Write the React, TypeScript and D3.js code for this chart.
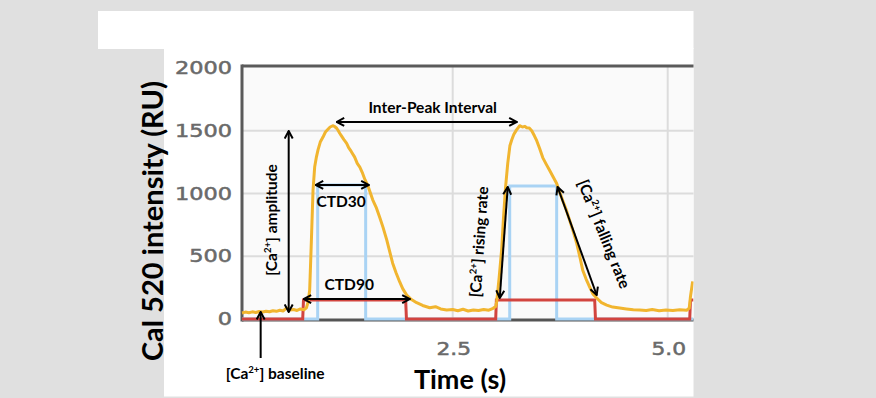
import React from "react";
import * as d3 from "d3";

const W = 876;
const H = 398;

const yTicks = [0, 500, 1000, 1500, 2000];
const xTicks = [2.5, 5.0];
const xTickLabels = ["2.5", "5.0"];

// Cal 520 trace: time (s) and intensity (RU)
const traceTime = [
  0.05, 0.09, 0.13, 0.17, 0.21, 0.25, 0.29, 0.33, 0.37, 0.41, 0.45, 0.49, 0.53, 0.57, 0.61, 0.65, 0.69, 0.73, 0.77, 0.8, 0.82,
  0.837, 0.857, 0.876, 0.895, 0.915, 0.934, 0.96, 0.992, 1.02, 1.047, 1.075, 1.105, 1.13, 1.151, 1.17, 1.186, 1.21, 1.235,
  1.267, 1.29, 1.32, 1.36, 1.39, 1.42, 1.453, 1.48, 1.512, 1.54, 1.57, 1.61, 1.651, 1.69, 1.733, 1.77, 1.802, 1.84, 1.884,
  1.92, 1.965, 2.02, 2.081, 2.15, 2.233, 2.3, 2.36, 2.43, 2.5, 2.56, 2.62, 2.68, 2.74, 2.8, 2.86, 2.92, 2.97, 3.0,
  3.012, 3.04, 3.07, 3.09, 3.115, 3.14, 3.165, 3.186, 3.21, 3.24, 3.279, 3.31, 3.34, 3.36, 3.39, 3.419, 3.45, 3.477, 3.51,
  3.547, 3.59, 3.628, 3.67, 3.709, 3.74, 3.779, 3.82, 3.86, 3.9, 3.942, 3.98, 4.012, 4.05, 4.093, 4.13, 4.174, 4.23, 4.291,
  4.36, 4.442, 4.52, 4.6, 4.674, 4.75, 4.82, 4.9, 4.98, 5.06, 5.14, 5.22, 5.25, 5.265, 5.29,
];
const traceValue = [
  48, 55, 50, 57, 52, 60, 56, 62, 58, 66, 61, 70, 64, 88, 72, 76, 68, 80, 74, 90, 140,
  231, 629, 1028, 1211, 1290, 1347, 1410, 1450, 1490, 1510, 1530, 1540, 1532, 1520, 1500, 1480, 1455, 1430,
  1400, 1365, 1335, 1290, 1240, 1210, 1160, 1110, 1065, 1010, 950, 890, 810, 730, 630, 530, 445, 370, 295,
  240, 190, 155, 130, 108, 90, 98, 80, 72, 75, 66, 78, 64, 72, 68, 76, 70, 85, 100,
  140, 330, 560, 800, 1052, 1240, 1380, 1426, 1470, 1505, 1540, 1530, 1535, 1524, 1522, 1500, 1460, 1421, 1360,
  1286, 1230, 1183, 1130, 1080, 1020, 945, 870, 786, 700, 603, 490, 389, 320, 254, 200, 167, 130, 111,
  95, 87, 80, 74, 71, 68, 75, 66, 72, 68, 74, 70, 85, 180, 300,
];

// CTD30 pulse (blue)
const ctd30Time = [0.05, 0.93, 0.93, 1.488, 1.488, 3.163, 3.163, 3.709, 3.709, 5.3];
const ctd30Value = [0, 0, 1068, 1068, 0, 0, 1060, 1060, 0, 0];

// CTD90 pulse (red)
const ctd90Time = [0.05, 0.756, 0.765, 1.953, 1.962, 3.0, 3.008, 4.151, 4.16, 5.256, 5.265, 5.3];
const ctd90Value = [0, 0, 151, 151, 0, 0, 151, 151, 0, 0, 151, 151];

// annotation arrows in data units
const arrowNames = ["interpeak", "amplitude", "ctd30", "ctd90", "rising", "falling", "baseline"];
const arrowFrom = [[1.151, 1570], [0.593, 56], [0.907, 1068], [0.767, 159], [3.047, 167], [3.72, 1052], [0.267, -311]];
const arrowTo = [[3.244, 1570], [0.593, 1498], [1.523, 1068], [2.0, 159], [3.14, 1052], [4.174, 191], [0.267, 56]];
const arrowDouble = [true, true, true, true, true, true, false];

const Ca = ({ size }: { size: number }) => (
  <>
    <tspan>[Ca</tspan>
    <tspan fontSize={size * 0.62} dy={-size * 0.38}>2+</tspan>
    <tspan dy={size * 0.38}>]</tspan>
  </>
);

export default function App() {
  const x = d3.scaleLinear().domain([0.05, 5.3]).range([242, 693.5]);
  const y = d3.scaleLinear().domain([0, 2000]).range([319, 68]);
  const line = d3.line<[number, number]>().x(d => x(d[0])).y(d => y(d[1]));

  const trace = traceTime.map((t, i) => [t, traceValue[i]] as [number, number]);
  const ctd30 = ctd30Time.map((t, i) => [t, ctd30Value[i]] as [number, number]);
  const ctd90 = ctd90Time.map((t, i) => [t, ctd90Value[i]] as [number, number]);

  const plotLeft = x(0.05);
  const plotTop = y(2000) - 2;
  const plotBottom = y(0) + 1;
  const font = "Lato, 'Open Sans', sans-serif";
  const tickFont = "'DejaVu Sans', Verdana, sans-serif";

  return (
    <svg width={W} height={H} style={{ position: "absolute", left: 0, top: 0 }}>
      <defs>
        <clipPath id="panel">
          <rect x={0} y={0} width={693.5} height={H} />
        </clipPath>
        <marker id="ah" viewBox="0 0 10 10" refX={9} refY={5} markerWidth={10} markerHeight={10}
          markerUnits="userSpaceOnUse" orient="auto-start-reverse">
          <path d="M1.5,1 L9,5 L1.5,9" fill="none" stroke="#000" strokeWidth={2} />
        </marker>
      </defs>
      <rect width={W} height={H} fill="#e0e0e0" />
      <rect x={98} y={11} width={595.5} height={38} fill="#fff" />
      <rect x={164} y={48} width={529.5} height={348.5} fill="#fff" />

      <g clipPath="url(#panel)">
        <rect x={plotLeft} y={plotTop} width={460} height={plotBottom - plotTop} fill="#fafafa" />
        {yTicks.slice(1, -1).map(v => (
          <line key={v} x1={plotLeft} x2={700} y1={y(v)} y2={y(v)} stroke="#dcdcdc" strokeWidth={2} />
        ))}
        {xTicks.map(t => (
          <line key={t} x1={x(t)} x2={x(t)} y1={plotTop} y2={plotBottom} stroke="#dcdcdc" strokeWidth={2} />
        ))}
        <line x1={plotLeft} x2={700} y1={plotBottom} y2={plotBottom} stroke="#555" strokeWidth={3} />
        <line x1={plotLeft} x2={700} y1={plotTop} y2={plotTop} stroke="#5a5a5a" strokeWidth={3} />
        <line x1={plotLeft} x2={plotLeft} y1={plotTop - 1.5} y2={plotBottom + 1.5} stroke="#5a5a5a" strokeWidth={3} />

        <path d={line(ctd30) || ""} fill="none" stroke="#a9d3f4" strokeWidth={3} />
        <path d={line(ctd90) || ""} fill="none" stroke="#d2443f" strokeWidth={3} />
        <path d={line(trace) || ""} fill="none" stroke="#f1b52f" strokeWidth={3} strokeLinejoin="round" />
      </g>

      {yTicks.map(v => (
        <g key={v} transform={`translate(232,${y(v) + 6}) scale(1.32,1)`}>
          <text textAnchor="end" fontFamily={tickFont} fontSize={17} fill="#6a6a6a" stroke="#6a6a6a" strokeWidth={0.5}>{v}</text>
        </g>
      ))}
      {xTicks.map((t, i) => (
        <g key={t} transform={`translate(${x(t) + 1},355) scale(1.28,1)`}>
          <text textAnchor="middle" fontFamily={tickFont} fontSize={17} fill="#6a6a6a" stroke="#6a6a6a" strokeWidth={0.5}>{xTickLabels[i]}</text>
        </g>
      ))}

      <text transform="translate(163,221) rotate(-90)" textAnchor="middle" fontFamily={font} fontWeight="bold" fontSize={29} fill="#000">
        Cal 520 intensity (RU)
      </text>
      <text x={460} y={389} textAnchor="middle" fontFamily={font} fontWeight="bold" fontSize={27} fill="#000">Time (s)</text>

      {arrowNames.map((n, i) => (
        <line key={n}
          x1={x(arrowFrom[i][0])} y1={y(arrowFrom[i][1])}
          x2={x(arrowTo[i][0])} y2={y(arrowTo[i][1])}
          stroke="#000" strokeWidth={2}
          markerEnd="url(#ah)" markerStart={arrowDouble[i] ? "url(#ah)" : undefined} />
      ))}

      <g fontFamily={font} fontWeight="bold" fontSize={15.5} fill="#000">
        <text x={x(2.267)} y={y(1641)} textAnchor="middle">Inter-Peak Interval</text>
        <text x={x(1.203)} y={y(895)} textAnchor="middle">CTD30</text>
        <text x={x(1.297)} y={y(231)} textAnchor="middle">CTD90</text>
        <text transform={`translate(${x(0.455)},${y(789)}) rotate(-90)`} textAnchor="middle">
          <Ca size={15.5} /> amplitude
        </text>
        <text transform={`translate(${x(2.87)},${y(613)}) rotate(-86)`} textAnchor="middle">
          <Ca size={15.5} /> rising rate
        </text>
        <text transform={`translate(${x(4.2)},${y(661)}) rotate(68)`} textAnchor="middle">
          <Ca size={15.5} /> falling rate
        </text>
        <text x={x(-0.14)} y={y(-478)} textAnchor="start">
          <Ca size={15.5} /> baseline
        </text>
      </g>
    </svg>
  );
}
